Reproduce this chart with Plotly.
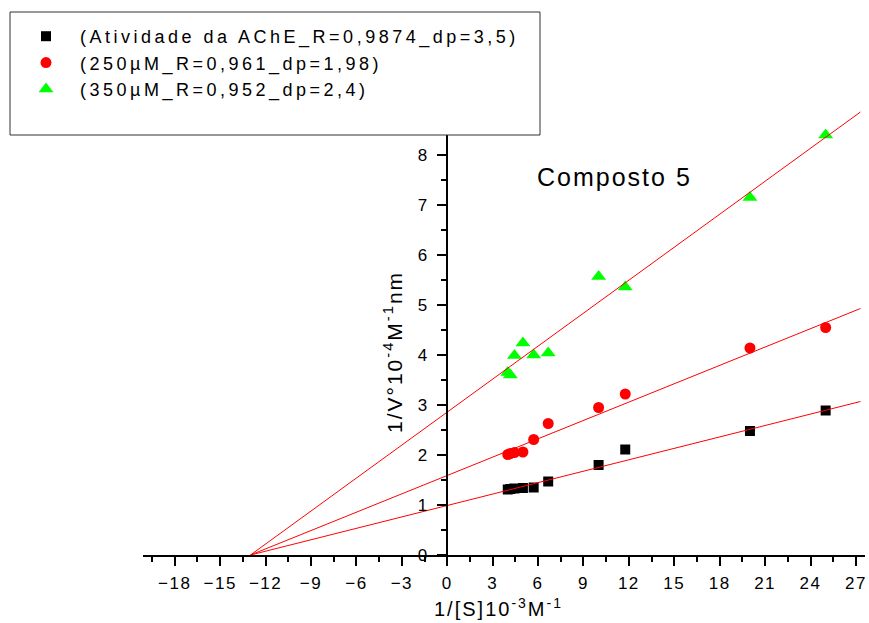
import plotly.graph_objects as go

# 1/[S] (10^-3 M^-1) and 1/V values
s_inv = [4.0, 4.17, 4.44, 5.0, 5.71, 6.67, 10.0, 11.76, 20.0, 25.0]
v_ache = [1.31, 1.32, 1.33, 1.34, 1.35, 1.47, 1.80, 2.11, 2.48, 2.89]
v_250 = [2.01, 2.03, 2.05, 2.06, 2.31, 2.63, 2.95, 3.22, 4.14, 4.55]
v_350 = [3.65, 3.60, 3.99, 4.24, 4.00, 4.04, 5.57, 5.36, 7.15, 8.40]

# ends of the fitted lines
fit_x = [-13.0, 27.3]
fit_ache = [0.0, 3.07]
fit_250 = [0.0, 4.93]
fit_350 = [0.0, 8.86]

names = ['(Atividade da AChE_R=0,9874_dp=3,5)',
         '(250µM_R=0,961_dp=1,98)',
         '(350µM_R=0,952_dp=2,4)']

W, H = 869, 623
L, R, T, B = 143, 4, 110, 68
pw, ph = W - L - R, H - T - B
x_range = [-20.1, 27.6]
y_range = [0, 8.9]


def px_x(p):
    return (p - L) / pw


def px_y(p):
    return (H - B - p) / ph


fig = go.Figure()

fig.add_scatter(x=s_inv, y=v_ache, mode='markers', name=names[0],
                marker=dict(symbol='square', size=10, color='black'))
fig.add_scatter(x=s_inv, y=v_250, mode='markers', name=names[1],
                marker=dict(symbol='circle', size=11, color='#ff0000'))
fig.add_scatter(x=s_inv, y=v_350, mode='markers', name=names[2],
                marker=dict(symbol='triangle-up', size=13, color='#00ff00'))

for fy in [fit_ache, fit_250, fit_350]:
    fig.add_scatter(x=fit_x, y=fy, mode='lines', showlegend=False,
                    line=dict(color='#ff0000', width=1), hoverinfo='skip')

tick_font = dict(family='Liberation Sans, Arial', size=17, color='black')

fig.update_layout(width=W, height=H,
                  margin=dict(l=L, r=R, t=T, b=B),
                  paper_bgcolor='white', plot_bgcolor='white',
                  font=dict(family='Liberation Sans, Arial', color='black'),
                  showlegend=True,
                  legend=dict(x=px_x(12), y=px_y(18), xanchor='left', yanchor='top',
                              bgcolor='rgba(0,0,0,0)', borderwidth=0,
                              itemwidth=58, tracegroupgap=0,
                              font=dict(size=18, color='black')))

fig.update_xaxes(range=x_range, showgrid=False, zeroline=False,
                 showline=True, linecolor='black', linewidth=2,
                 ticks='outside', ticklen=9, tickwidth=1.5, tickcolor='black',
                 tick0=0, dtick=3, tickfont=tick_font, ticklabelstandoff=3,
                 minor=dict(ticks='outside', ticklen=5, tickwidth=1.5, tickcolor='black', dtick=1.5, tick0=0),
                 automargin=False)

fig.update_yaxes(range=y_range, showgrid=False, zeroline=False,
                 anchor='free', position=(0 - x_range[0]) / (x_range[1] - x_range[0]),
                 showline=True, linecolor='black', linewidth=2,
                 ticks='outside', ticklen=9, tickwidth=1.5, tickcolor='black',
                 tick0=0, dtick=1, tickfont=tick_font, ticklabelstandoff=5,
                 minor=dict(ticks='outside', ticklen=5, tickwidth=1.5, tickcolor='black', dtick=0.5, tick0=0),
                 automargin=False)

# legend frame (white, covers the top of the y axis)
fig.add_shape(type='rect', xref='paper', yref='paper', layer='above',
              x0=px_x(10), x1=px_x(540), y0=px_y(135), y1=px_y(12),
              line=dict(color='#333333', width=1), fillcolor='white')

fig.add_annotation(x=px_x(614), y=px_y(177), xref='paper', yref='paper',
                   xanchor='center', yanchor='middle',
                   text='Composto 5', showarrow=False,
                   font=dict(size=25, color='black'))

# axis titles
fig.add_annotation(x=px_x(498), y=px_y(607), xref='paper', yref='paper',
                   xanchor='center', yanchor='middle',
                   text='1/[S]10<sup>-3</sup>M<sup>-1</sup>', showarrow=False,
                   font=dict(size=20, color='black'))
fig.add_annotation(x=px_x(393), y=px_y(352), xref='paper', yref='paper',
                   xanchor='center', yanchor='middle', textangle=-90,
                   text='1/V°10<sup>-4</sup>M<sup>-1</sup>nm', showarrow=False,
                   font=dict(size=21, color='black'))

spacing = """
var css = document.createElement('style');
css.innerHTML = 'body{margin:0}' +
  '.legendtext{letter-spacing:3.5px}' +
  '.annotation-text{letter-spacing:2px}' +
  '.xtick text,.ytick text{letter-spacing:1.5px}';
document.head.appendChild(css);
var gd = document.getElementById('{plot_id}');
Plotly.relayout(gd, {'legend.font.size': 18.01});
"""

fig.write_html("out.html", post_script=spacing, config={'displayModeBar': False})
